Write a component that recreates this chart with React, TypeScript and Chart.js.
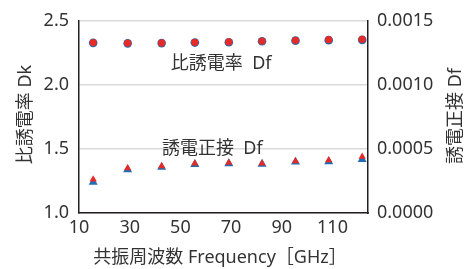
import React, { useEffect, useRef } from "react";
import { Chart, registerables } from "chart.js";

Chart.register(...registerables);

const freqGHz = [15.6, 29.2, 42.6, 55.7, 69.1, 82.2, 95.4, 108.5, 121.7];
const dkBlue = [2.328, 2.324, 2.326, 2.330, 2.333, 2.340, 2.345, 2.349, 2.351];
const dkRed = [2.330, 2.325, 2.327, 2.332, 2.335, 2.342, 2.348, 2.353, 2.355];
const dfBlue = [0.000240, 0.000338, 0.000358, 0.000380, 0.000386, 0.000382, 0.000398, 0.000400, 0.000418];
const dfRed = [0.000262, 0.000350, 0.000366, 0.000387, 0.000392, 0.000387, 0.000405, 0.000412, 0.000440];

const xTicks = [10, 30, 50, 70, 90, 110];
const dkTicks = [1.0, 1.5, 2.0, 2.5];
const dfTicks = [0, 0.0005, 0.001, 0.0015];

const leftTitle = "比誘電率 Dk";
const rightTitle = "誘電正接 Df";
const bottomTitle = "共振周波数 Frequency［GHz］";
const noteTexts = ["比誘電率  Df", "誘電正接  Df"];
const noteX = [66.1, 62.6];
const noteDk = [2.161, 1.498];

const FONT = '"Noto Sans", "Noto Sans CJK JP", sans-serif';
const TEXT = "#333333";
const BLUE = "#1f6db4";
const RED = "#e62a27";

const textPlugin = {
  id: "texts",
  afterDraw(chart: any) {
    const ctx = chart.ctx;
    const x = chart.scales.x;
    const y = chart.scales.y;
    ctx.save();
    ctx.fillStyle = TEXT;
    ctx.font = `18px ${FONT}`;
    ctx.textAlign = "center";
    ctx.textBaseline = "middle";
    noteTexts.forEach((t, i) => {
      ctx.fillText(t, x.getPixelForValue(noteX[i]), y.getPixelForValue(noteDk[i]));
    });
    ctx.fillText(bottomTitle, 220, 258);
    ctx.save();
    ctx.translate(26, 114.5);
    ctx.rotate(-Math.PI / 2);
    ctx.fillText(leftTitle, 0, 0);
    ctx.restore();
    ctx.save();
    ctx.translate(456, 116);
    ctx.rotate(-Math.PI / 2);
    ctx.fillText(rightTitle, 0, 0);
    ctx.restore();
    ctx.restore();
  },
};

export default function App() {
  const ref = useRef<HTMLCanvasElement>(null);
  useEffect(() => {
    const toXY = (ys: number[]) => ys.map((v, i) => ({ x: freqGHz[i], y: v }));
    const chart = new Chart(ref.current as HTMLCanvasElement, {
      type: "scatter",
      data: {
        datasets: [
          { data: toXY(dkRed), yAxisID: "y", pointStyle: "circle", pointRadius: 3.6, backgroundColor: RED, borderColor: RED, borderWidth: 0, order: 1 },
          { data: toXY(dkBlue), yAxisID: "y", pointStyle: "circle", pointRadius: 4.3, backgroundColor: BLUE, borderColor: BLUE, borderWidth: 0, order: 2 },
          { data: toXY(dfRed), yAxisID: "y2", pointStyle: "triangle", pointRadius: 4.2, backgroundColor: RED, borderColor: RED, borderWidth: 0, order: 1 },
          { data: toXY(dfBlue), yAxisID: "y2", pointStyle: "triangle", pointRadius: 5.2, backgroundColor: BLUE, borderColor: BLUE, borderWidth: 0, order: 2 },
        ],
      },
      options: {
        responsive: false,
        animation: false,
        devicePixelRatio: 1,
        layout: { padding: { top: 16, left: 0, right: 0, bottom: 0 } },
        plugins: { legend: { display: false }, tooltip: { enabled: false } },
        scales: {
          x: {
            type: "linear",
            min: 10,
            max: 124,
            afterBuildTicks: (s: any) => { s.ticks = xTicks.map((v) => ({ value: v })); },
            afterFit: (s: any) => { s.height = 56; },
            grid: { display: false, drawTicks: false },
            border: { display: true, color: "#231f20", width: 1.5 },
            ticks: { color: TEXT, font: { family: FONT, size: 18 }, padding: 4, maxRotation: 0, autoSkip: false, callback: (v: any) => String(v) },
          },
          y: {
            type: "linear",
            position: "left",
            min: 1,
            max: 2.5,
            afterBuildTicks: (s: any) => { s.ticks = dkTicks.map((v) => ({ value: v })); },
            afterFit: (s: any) => { s.width = 79; },
            grid: { display: true, color: "#d9d9d9", lineWidth: 1.5, drawTicks: false },
            border: { display: true, color: "#231f20", width: 1.5 },
            ticks: { color: TEXT, font: { family: FONT, size: 18 }, padding: 10, callback: (v: any) => Number(v).toFixed(1) },
          },
          y2: {
            type: "linear",
            position: "right",
            min: 0,
            max: 0.0015,
            afterBuildTicks: (s: any) => { s.ticks = dfTicks.map((v) => ({ value: v })); },
            afterFit: (s: any) => { s.width = 106; },
            grid: { display: false, drawTicks: false },
            border: { display: true, color: "#231f20", width: 1.5 },
            ticks: { color: TEXT, font: { family: FONT, size: 18 }, padding: 9, callback: (v: any) => Number(v).toFixed(4) },
          },
        },
      },
      plugins: [textPlugin],
    } as any);
    return () => chart.destroy();
  }, []);
  return (
    <div style={{ position: "absolute", left: 0, top: 0, width: 474, height: 269, background: "#fff" }}>
      <canvas ref={ref} width={474} height={269} style={{ display: "block" }} />
    </div>
  );
}
